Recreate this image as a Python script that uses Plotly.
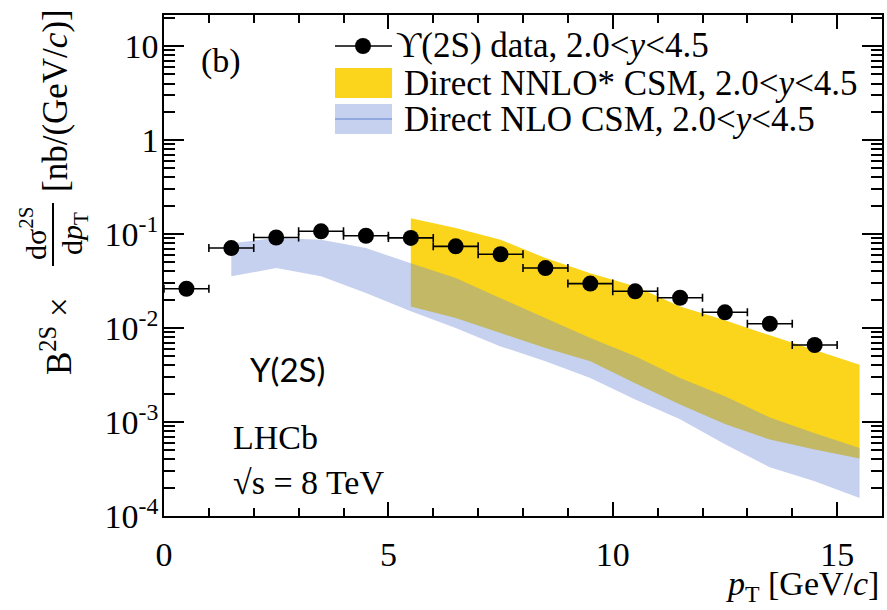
import plotly.graph_objects as go

# Upsilon(2S) differential cross-section, LHCb sqrt(s) = 8 TeV
pt = [0.5, 1.5, 2.5, 3.5, 4.5, 5.5, 6.5, 7.5, 8.5, 9.5, 10.5, 11.5, 12.5, 13.5, 14.5]
pt_halfwidth = [0.5, 0.5, 0.5, 0.5, 0.5, 0.5, 0.5, 0.5, 0.5, 0.5, 0.5, 0.5, 0.5, 0.5, 0.5]
xsec = [0.0262, 0.071, 0.092, 0.107, 0.096, 0.091, 0.074, 0.061, 0.0435, 0.0297,
        0.0246, 0.0210, 0.0147, 0.0111, 0.0066]

# Direct NNLO* CSM band
nnlo_pt = [5.5, 6.5, 7.5, 8.5, 9.5, 10.5, 11.5, 12.5, 13.5, 14.5, 15.5]
nnlo_hi = [0.147, 0.116, 0.087, 0.0556, 0.0382, 0.0278, 0.0170, 0.0121, 0.00836, 0.00579, 0.00408]
nnlo_lo = [0.0170, 0.0128, 0.00885, 0.00613, 0.00442, 0.00258, 0.00154, 0.00095, 0.00065, 0.00051, 0.00041]

# Direct NLO CSM band
nlo_pt = [1.5, 2.5, 3.5, 4.5, 5.5, 6.5, 7.5, 8.5, 9.5, 10.5, 11.5, 12.5, 13.5, 14.5, 15.5]
nlo_hi = [0.080, 0.0906, 0.0871, 0.071, 0.0488, 0.034, 0.0208, 0.0128, 0.00783, 0.0050,
          0.00294, 0.00188, 0.00112, 0.00076, 0.00053]
nlo_lo = [0.0355, 0.0435, 0.0355, 0.0236, 0.0151, 0.0100, 0.00638, 0.00442, 0.00294, 0.00174,
          0.00107, 0.00058, 0.00033, 0.000234, 0.000155]

x_tickvals = [0, 5, 10, 15]
x_ticktext = ["0", "5", "10", "15"]
y_tickvals = [1e-4, 1e-3, 1e-2, 1e-1, 1, 10]
y_ticktext = ["10<sup>-4</sup>", "10<sup>-3</sup>", "10<sup>-2</sup>", "10<sup>-1</sup>", "1", "10"]

legend_labels = ["ϒ(2S) data, 2.0&lt;<i>y</i>&lt;4.5",
                 "Direct NNLO* CSM, 2.0&lt;<i>y</i>&lt;4.5",
                 "Direct NLO CSM, 2.0&lt;<i>y</i>&lt;4.5"]

YELLOW = "rgb(250,213,28)"
BLUE = "rgba(110,140,215,0.40)"
SERIF = "Liberation Serif, Times New Roman, DejaVu Serif, serif"

W, H = 887, 610
L, R, T, B = 164, 882, 15, 516
X_RANGE = [0, 16]
Y_RANGE = [-4, 1.331]


def px(x):
    return (x - L) / (R - L)


def py(y):
    return (B - y) / (B - T)


fig = go.Figure()

fig.add_trace(go.Scatter(
    x=nnlo_pt + nnlo_pt[::-1], y=nnlo_hi + nnlo_lo[::-1],
    fill="toself", fillcolor=YELLOW, mode="lines", line=dict(width=0),
    hoverinfo="skip", showlegend=False))

fig.add_trace(go.Scatter(
    x=nlo_pt + nlo_pt[::-1], y=nlo_hi + nlo_lo[::-1],
    fill="toself", fillcolor=BLUE, mode="lines", line=dict(width=0),
    hoverinfo="skip", showlegend=False))

fig.add_trace(go.Scatter(
    x=pt, y=xsec, mode="markers",
    marker=dict(color="black", size=16),
    error_x=dict(type="data", array=pt_halfwidth, color="black", thickness=1.6, width=4),
    showlegend=False))

# empty trace so the top/right frame axes are drawn
fig.add_trace(go.Scatter(x=[], y=[], xaxis="x2", yaxis="y2", showlegend=False, hoverinfo="skip"))

minor_y = [k * 10.0 ** e for e in range(-4, 2) for k in range(2, 10)]

tick_common = dict(showgrid=False, zeroline=False, showline=True, linecolor="black",
                   linewidth=1.6, ticks="inside", tickwidth=1.5, tickcolor="black")
x_common = dict(tick_common, range=X_RANGE, ticklen=14, tickmode="array", tickvals=x_tickvals,
                minor=dict(ticks="inside", ticklen=8, tickwidth=1.5, tickcolor="black",
                           dtick=1, tick0=0, showgrid=False))
y_common = dict(tick_common, type="log", range=Y_RANGE, ticklen=20, tickmode="array",
                tickvals=y_tickvals,
                minor=dict(ticks="inside", ticklen=11, tickwidth=1.5, tickcolor="black",
                           tickmode="array", tickvals=minor_y, showgrid=False))

fig.update_layout(
    width=W, height=H,
    margin=dict(l=L, r=W - R, t=T, b=H - B, autoexpand=False),
    paper_bgcolor="white", plot_bgcolor="white",
    showlegend=False,
    font=dict(family=SERIF, color="black"),
    xaxis=dict(x_common, ticktext=x_ticktext,
               tickfont=dict(family=SERIF, size=34, color="black"), ticklabelstandoff=7),
    yaxis=dict(y_common, ticktext=y_ticktext,
               tickfont=dict(family=SERIF, size=34, color="black"), ticklabelstandoff=-3),
    xaxis2=dict(x_common, overlaying="x", side="top", anchor="y", showticklabels=False),
    yaxis2=dict(y_common, overlaying="y", side="right", anchor="x", showticklabels=False),
)

ann = []


def text(x, y, s, size=34, family=SERIF, xanchor="left", yanchor="middle", angle=0):
    ann.append(dict(x=px(x), y=py(y), xref="paper", yref="paper", text=s,
                    showarrow=False, xanchor=xanchor, yanchor=yanchor, textangle=angle,
                    font=dict(family=family, size=size, color="black")))


# panel label and experiment tags
text(199, 61, "(b)")
text(231, 437, "LHCb")
text(231, 482, "√s = 8 TeV")
text(287, 369, "Y(2S)", size=33, family="Lato, Open Sans, sans-serif", xanchor="center")

# legend entries
legend_rows = [46, 83, 119]
text(394, legend_rows[0], legend_labels[0], size=35)
text(402, legend_rows[1], legend_labels[1], size=35)
text(402, legend_rows[2], legend_labels[2], size=35)

# x-axis title
text(881, 586, "<i>p</i><sub>T</sub> [GeV/<i>c</i>]", size=34, xanchor="right")

# y-axis title built from rotated pieces
text(56, 336, "B<sup>2S</sup> ×", size=35, xanchor="center", angle=-90)
text(33, 234, "dσ<sup>2S</sup>", size=30, xanchor="center", angle=-90)
text(74, 234, "d<i>p</i><sub>T</sub>", size=30, xanchor="center", angle=-90)
text(56, 101, "[nb/(GeV/<i>c</i>)]", size=35, xanchor="center", angle=-90)

shapes = []


def pline(x0, y0, x1, y1, color="black", width=1.6):
    shapes.append(dict(type="line", xref="paper", yref="paper",
                       x0=px(x0), y0=py(y0), x1=px(x1), y1=py(y1),
                       line=dict(color=color, width=width)))


def prect(x0, y0, x1, y1, fill):
    shapes.append(dict(type="rect", xref="paper", yref="paper",
                       x0=px(x0), y0=py(y0), x1=px(x1), y1=py(y1),
                       fillcolor=fill, line=dict(width=0)))


# fraction bar of the y-axis title
pline(53, 203, 53, 266, width=2)

# legend keys
pline(335, legend_rows[0], 392, legend_rows[0])
shapes.append(dict(type="circle", xref="paper", yref="paper",
                   x0=px(355), x1=px(371), y0=py(legend_rows[0] - 8), y1=py(legend_rows[0] + 8),
                   fillcolor="black", line=dict(width=0)))
prect(335, legend_rows[1] - 15, 392, legend_rows[1] + 15, YELLOW)
prect(335, legend_rows[2] - 15, 392, legend_rows[2] + 15, BLUE)
pline(335, legend_rows[2], 392, legend_rows[2], color="rgba(110,140,215,0.8)", width=1.5)

fig.update_layout(annotations=ann, shapes=shapes)

fig.write_html("out.html")
